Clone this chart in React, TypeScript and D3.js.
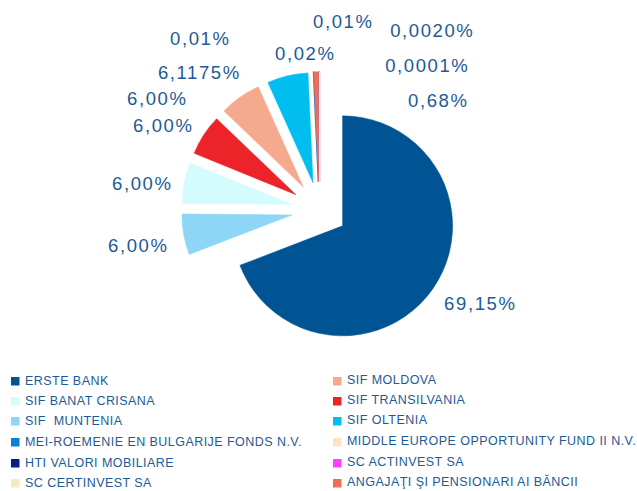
import React from "react";
import * as d3 from "d3";

// Slices in clockwise drawing order
const sliceNames = [
  "ERSTE BANK",
  "SIF  MUNTENIA",
  "SIF BANAT CRISANA",
  "SIF TRANSILVANIA",
  "SIF MOLDOVA",
  "SIF OLTENIA",
  "MIDDLE EUROPE OPPORTUNITY FUND II N.V.",
  "MEI-ROEMENIE EN BULGARIJE FONDS N.V.",
  "ANGAJAŢI ŞI PENSIONARI AI BĂNCII",
  "HTI VALORI MOBILIARE",
  "SC ACTINVEST SA",
  "SC CERTINVEST SA",
];
const sliceValues = [69.15, 6.0, 6.0, 6.0, 6.1175, 6.0, 0.02, 0.01, 0.68, 0.01, 0.0001, 0.002];
const sliceLabels = ["69,15%", "6,00%", "6,00%", "6,00%", "6,1175%", "6,00%", "0,02%", "0,01%", "0,68%", "0,01%", "0,0001%", "0,0020%"];
const sliceColors = ["#005493", "#8DD6F6", "#D4FBFD", "#EC2329", "#F5AA8E", "#00BFEF", "#FCE3C6", "#0A7FD6", "#EF6F54", "#0A1C8A", "#FF40FF", "#F3EAC0"];

// Legend order (two columns, row by row)
const legendNames = [
  "ERSTE BANK", "SIF MOLDOVA",
  "SIF BANAT CRISANA", "SIF TRANSILVANIA",
  "SIF  MUNTENIA", "SIF OLTENIA",
  "MEI-ROEMENIE EN BULGARIJE FONDS N.V.", "MIDDLE EUROPE OPPORTUNITY FUND II N.V.",
  "HTI VALORI MOBILIARE", "SC ACTINVEST SA",
  "SC CERTINVEST SA", "ANGAJAŢI ŞI PENSIONARI AI BĂNCII",
];

// Layout (label placement relative to pie centre, hand-placed in original)
const labelOffsets: [number, number][] = [
  [160, 93], [-182, 35], [-178, -27], [-157, -85], [-121, -138], [-163, -112],
  [-15, -157], [-120, -172], [118, -110], [23, -189], [107, -145], [112, -180],
];

const W = 637, H = 491;
const cx = 319.5, cy = 210;
const R = 110;
const explode = 28;
const textColor = "#1D5A96";
const font = "'Liberation Sans', Arial, sans-serif";

export default function App() {
  const pie = d3.pie<number>().sort(null).value((d) => d).startAngle(0).endAngle(2 * Math.PI);
  const arcs = pie(sliceValues);
  const arcGen = d3.arc<d3.PieArcDatum<number>>().innerRadius(0).outerRadius(R);

  const rowY = [381, 401, 421, 442, 463, 483];
  const colX = [11, 333];

  return (
    <div style={{ position: "absolute", left: 0, top: 0, width: W, height: H, background: "#fff" }}>
      <svg width={W} height={H} style={{ display: "block" }}>
        <g transform={`translate(${cx},${cy})`}>
          {arcs.map((a, i) => {
            const mid = (a.startAngle + a.endAngle) / 2;
            const dx = explode * Math.sin(mid);
            const dy = -explode * Math.cos(mid);
            return (
              <path
                key={i}
                d={arcGen(a) || ""}
                transform={`translate(${dx},${dy})`}
                fill={sliceColors[i]}
                stroke={sliceColors[i]}
                strokeWidth={i >= 6 ? 1.2 : 0.5}
              />
            );
          })}
          {arcs.map((a, i) => (
            <text
              key={"l" + i}
              x={labelOffsets[i][0] + 0.8}
              y={labelOffsets[i][1]}
              textAnchor="middle"
              dominantBaseline="central"
              fontFamily={font}
              fontSize={18.5}
              letterSpacing={1.6}
              fill={textColor}
            >
              {sliceLabels[i]}
            </text>
          ))}
        </g>
        {legendNames.map((name, k) => {
          const col = k % 2;
          const row = Math.floor(k / 2);
          const idx = sliceNames.indexOf(name);
          const y = rowY[row];
          return (
            <g key={"lg" + k}>
              <rect x={colX[col]} y={y - 4} width={8.5} height={8.5} fill={sliceColors[idx]} />
              <text
                x={colX[col] + 14}
                y={y + (col === 1 ? -1 : 0)}
                dominantBaseline="central"
                fontFamily={font}
                fontSize={12.5}
                letterSpacing={0.45}
                fill={textColor}
                style={{ whiteSpace: "pre" }}
              >
                {name}
              </text>
            </g>
          );
        })}
      </svg>
    </div>
  );
}
